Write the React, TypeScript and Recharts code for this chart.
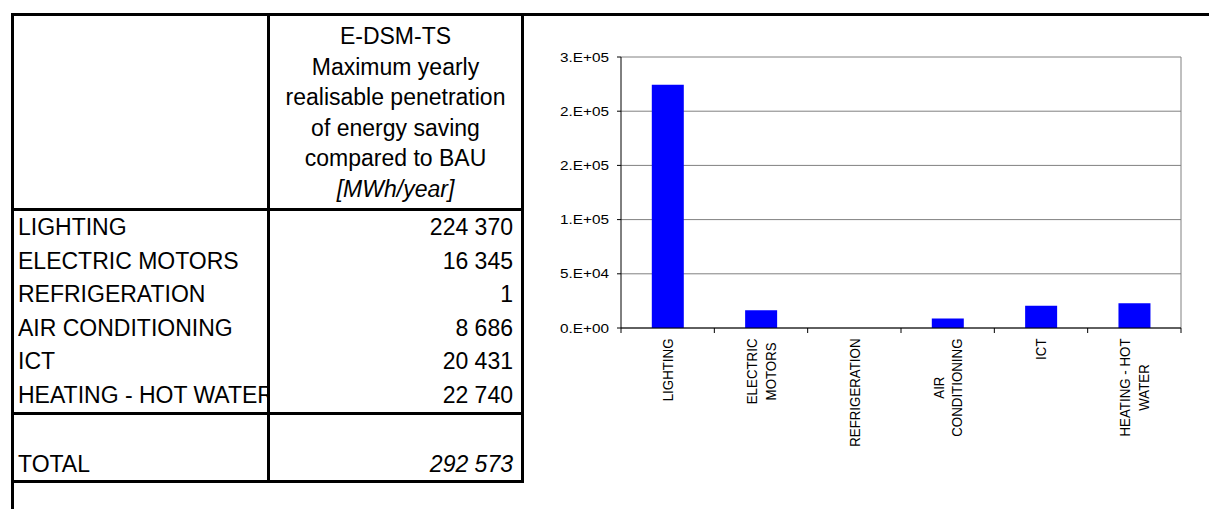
import { BarChart, Bar, XAxis, YAxis, CartesianGrid } from 'recharts';

const categories = [
  'LIGHTING',
  'ELECTRIC MOTORS',
  'REFRIGERATION',
  'AIR CONDITIONING',
  'ICT',
  'HEATING - HOT WATER',
];
const axisLabelLines = [
  ['LIGHTING'],
  ['ELECTRIC', 'MOTORS'],
  ['REFRIGERATION'],
  ['AIR', 'CONDITIONING'],
  ['ICT'],
  ['HEATING - HOT', 'WATER'],
];
const savings = [224370, 16345, 1, 8686, 20431, 22740];
const yTicks = [0, 50000, 100000, 150000, 200000, 250000];
const yTickLabels = ['0.E+00', '5.E+04', '1.E+05', '2.E+05', '2.E+05', '3.E+05'];
const headerLines = [
  'E-DSM-TS',
  'Maximum yearly',
  'realisable penetration',
  'of energy saving',
  'compared to BAU',
];
const headerUnit = '[MWh/year]';

const FONT = '"Liberation Sans", Arial, sans-serif';
const AXIS_FONT_SIZE = 13.3;
const STRETCH = 1.15;

const chartData = categories.map((name, i) => ({ name, value: savings[i] }));
const total = savings.reduce((a, b) => a + b, 0);

// 224370 -> "224 370"
function fmt(n: number) {
  return String(n).replace(/\B(?=(\d{3})+(?!\d))/g, ' ');
}

let measureCtx: CanvasRenderingContext2D | null = null;
function textWidth(s: string) {
  if (!measureCtx) measureCtx = document.createElement('canvas').getContext('2d');
  if (!measureCtx) return s.length * AXIS_FONT_SIZE * 0.6;
  measureCtx.font = `${AXIS_FONT_SIZE}px ${FONT}`;
  return measureCtx.measureText(s).width;
}

/**
 * Y tick with Excel style labels, slightly stretched like the source export
 */
function ValueTick({ x, y, payload }: any) {
  const i = yTicks.indexOf(payload.value);
  return (
    <text
      transform={`translate(${x},${y}) scale(${STRETCH},1)`}
      textAnchor="end"
      dominantBaseline="central"
      fontSize={AXIS_FONT_SIZE}
      fontFamily={FONT}
      fill="#000"
    >
      {yTickLabels[i]}
    </text>
  );
}

/**
 * Category tick: tick marks on the category edges, vertical multi-line label
 */
function CategoryTick({ x, y, payload, visibleTicksCount }: any) {
  const idx = categories.indexOf(payload.value);
  const half = payload.offset ?? 0;
  const lines = axisLabelLines[idx] ?? [String(payload.value)];
  const maxLen = Math.max(...lines.map(textWidth));
  const step = 16.5;
  return (
    <g>
      <line x1={x - half} x2={x - half} y1={y} y2={y + 5} stroke="#000" />
      {idx === visibleTicksCount - 1 && (
        <line x1={x + half} x2={x + half} y1={y} y2={y + 5} stroke="#000" />
      )}
      <g transform={`translate(${x},${y + 10.5}) rotate(-90) scale(1,${STRETCH})`}>
        {lines.map((l, i) => (
          <text
            key={i}
            x={-maxLen / 2}
            y={(i - (lines.length - 1) / 2) * step}
            textAnchor="middle"
            dominantBaseline="central"
            fontSize={AXIS_FONT_SIZE}
            fontFamily={FONT}
            fill="#000"
          >
            {l}
          </text>
        ))}
      </g>
    </g>
  );
}

const line = (left: number, top: number, width: number, height: number) => (
  <div style={{ position: 'absolute', left, top, width, height, background: '#000' }} />
);

export default function App() {
  const rowTop = 211;
  const rowH = 33.5;
  return (
    <div
      style={{
        position: 'absolute',
        left: 0,
        top: 0,
        width: 1209,
        height: 509,
        overflow: 'hidden',
        background: '#fff',
        fontFamily: FONT,
        color: '#000',
      }}
    >
      {/* frame and table rules */}
      {line(11, 13, 1198, 3)}
      {line(11, 13, 3, 496)}
      {line(267, 13, 3, 470)}
      {line(521, 13, 3, 470)}
      {line(11, 208, 513, 3)}
      {line(11, 412, 513, 3)}
      {line(11, 480, 513, 3)}

      {/* header cell */}
      <div
        style={{
          position: 'absolute',
          left: 270,
          top: 21,
          width: 251,
          fontSize: 23,
          lineHeight: '30.5px',
          textAlign: 'center',
          whiteSpace: 'nowrap',
        }}
      >
        {headerLines.map((h) => (
          <div key={h}>{h}</div>
        ))}
        <div style={{ fontStyle: 'italic' }}>{headerUnit}</div>
      </div>

      {/* data rows */}
      {categories.map((c, i) => (
        <div key={c}>
          <div
            style={{
              position: 'absolute',
              left: 18,
              top: rowTop + i * rowH,
              width: 249,
              height: rowH,
              lineHeight: `${rowH}px`,
              fontSize: 23,
              whiteSpace: 'nowrap',
              overflow: 'hidden',
            }}
          >
            {c}
          </div>
          <div
            style={{
              position: 'absolute',
              left: 270,
              top: rowTop + i * rowH,
              width: 243,
              height: rowH,
              lineHeight: `${rowH}px`,
              fontSize: 23,
              textAlign: 'right',
            }}
          >
            {fmt(savings[i])}
          </div>
        </div>
      ))}

      {/* total row */}
      <div
        style={{
          position: 'absolute',
          left: 18,
          top: 448,
          width: 249,
          lineHeight: `${rowH}px`,
          fontSize: 23,
        }}
      >
        TOTAL
      </div>
      <div
        style={{
          position: 'absolute',
          left: 270,
          top: 448,
          width: 243,
          lineHeight: `${rowH}px`,
          fontSize: 23,
          textAlign: 'right',
          fontStyle: 'italic',
        }}
      >
        {fmt(total)}
      </div>

      {/* chart */}
      <div style={{ position: 'absolute', left: 530, top: 40 }}>
        <BarChart
          width={679}
          height={469}
          data={chartData}
          margin={{ top: 17, right: 28, left: 31, bottom: 51 }}
          barCategoryGap="33%"
        >
          <CartesianGrid
            stroke="#808080"
            vertical
            verticalCoordinatesGenerator={({ offset }: any) => [offset.left + offset.width]}
          />
          <XAxis
            dataKey="name"
            interval={0}
            height={130}
            tickLine={false}
            tickSize={0}
            tickMargin={0}
            axisLine={{ stroke: '#000' }}
            tick={<CategoryTick />}
          />
          <YAxis
            domain={[0, 250000]}
            ticks={yTicks}
            width={60}
            tickSize={4}
            tickMargin={8}
            axisLine={{ stroke: '#000' }}
            tickLine={{ stroke: '#000' }}
            tick={<ValueTick />}
          />
          <Bar dataKey="value" fill="#0000FF" isAnimationActive={false} />
        </BarChart>
      </div>
    </div>
  );
}
